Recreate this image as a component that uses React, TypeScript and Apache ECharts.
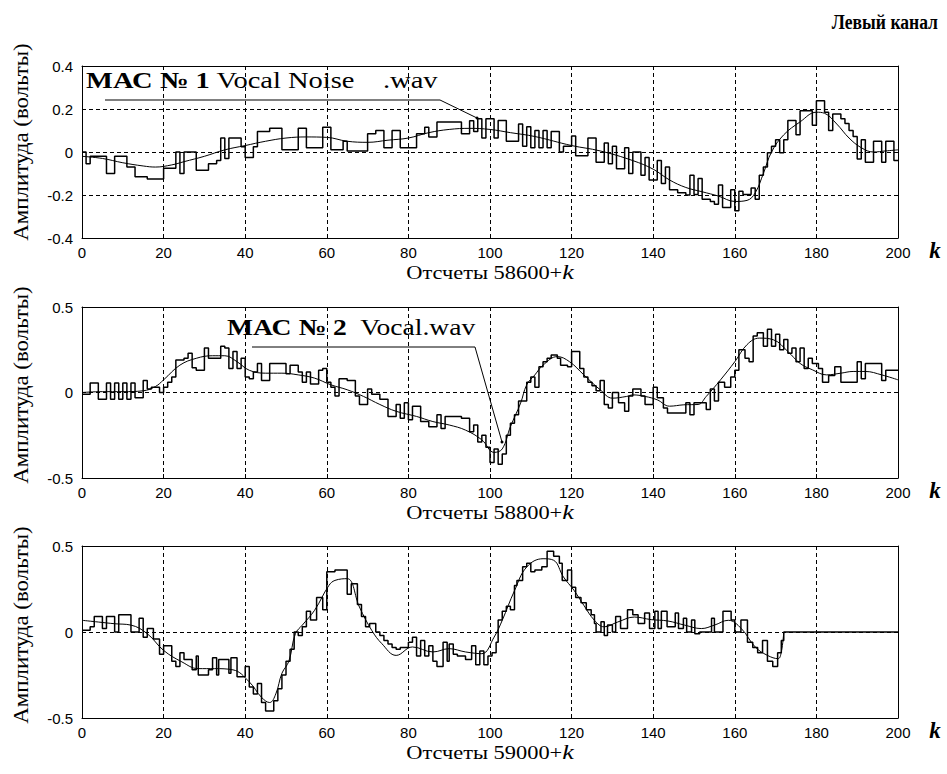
import React, { useEffect, useRef } from "react";
import * as echarts from "echarts";

const xTicks = { min: 0, max: 200, interval: 20 };
const yRanges = [
  { min: -0.4, max: 0.4, interval: 0.2 },
  { min: -0.5, max: 0.5, interval: 0.5 },
  { min: -0.5, max: 0.5, interval: 0.5 },
];
const xNames = ["58600", "58800", "59000"];
const titleText = "Левый канал";
const yName = "Амплитуда (вольты)";
const note1 = "{b|МАС № 1} Vocal Noise    .wav";
const note2 = "{b|МАС № 2}  Vocal.wav";

const step1 = [[0,0.0],[1,-0.055],[2,-0.02],[6,-0.1],[8,-0.02],[11,-0.07],[13,-0.115],[16,-0.125],[20,-0.075],[23,0.0],[24,-0.1],[25,0.0],[28,-0.085],[31,-0.055],[33,-0.04],[34,0.065],[35,-0.03],[36,0.065],[39,0.025],[40,-0.025],[42,0.025],[43,0.095],[46,0.11],[49,0.01],[53,0.11],[55,0.02],[59,0.115],[61,0.01],[64,0.05],[65,0.005],[70,0.085],[72,0.1],[74,0.02],[76,0.1],[78,0.02],[82,0.085],[84,0.115],[85,0.07],[87,0.14],[93,0.085],[95,0.145],[96,0.095],[97,0.155],[98,0.065],[99,0.155],[101,0.065],[102,0.147],[104,0.05],[107,0.13],[108,0.027],[109,0.117],[110,0.02],[111,0.1],[112,0.02],[113,0.1],[114,0.02],[115,0.095],[117,0.0],[118,0.027],[120,0.075],[121,-0.018],[124,0.065],[126,-0.048],[128,0.042],[129,-0.055],[130,0.027],[131,-0.078],[133,0.02],[134,-0.1],[135,0.0],[137,-0.108],[138,-0.025],[139,-0.13],[141,-0.04],[142,-0.146],[143,-0.07],[144,-0.175],[146,-0.19],[148,-0.2],[149,-0.108],[150,-0.198],[151,-0.123],[152,-0.22],[154,-0.23],[155,-0.243],[156,-0.153],[157,-0.258],[159,-0.175],[160,-0.273],[161,-0.183],[162,-0.198],[164,-0.168],[165,-0.22],[166,-0.108],[167,-0.07],[168,-0.003],[169,0.027],[170,0.057],[171,-0.003],[172,0.057],[173,0.147],[175,0.08],[176,0.192],[179,0.125],[180,0.238],[182,0.185],[183,0.1],[184,0.177],[186,0.155],[187,0.132],[188,0.1],[189,0.072],[190,-0.033],[191,0.057],[192,-0.048],[194,0.05],[196,-0.048],[197,0.05],[199,-0.04],[200,-0.04]];

const smooth1 = [[0,-0.02],[5,-0.03],[10,-0.05],[15,-0.065],[18,-0.07],[22,-0.06],[25,-0.045],[30,-0.02],[35,0.01],[40,0.03],[45,0.05],[50,0.065],[55,0.07],[60,0.068],[65,0.05],[70,0.045],[75,0.055],[80,0.065],[85,0.09],[90,0.105],[95,0.11],[100,0.105],[105,0.09],[111,0.072],[120,0.03],[127,0.005],[135,-0.04],[140,-0.08],[144,-0.13],[148,-0.165],[152,-0.185],[156,-0.205],[160,-0.23],[163,-0.225],[165,-0.19],[167,-0.1],[169,0.0],[172,0.08],[176,0.14],[180,0.185],[182,0.18],[185,0.13],[188,0.065],[191,0.02],[194,0.0],[197,0.005],[200,0.01]];

const step2 = [[0,-0.01],[2,0.055],[4,-0.04],[6,0.055],[7,-0.04],[8,0.055],[9,-0.04],[10,0.055],[11,-0.04],[12,0.055],[13,-0.03],[15,0.07],[16,0.02],[17,0.03],[19,0.0],[20,0.03],[21,0.06],[22,0.09],[23,0.19],[25,0.2],[26,0.23],[27,0.145],[28,0.13],[30,0.26],[31,0.2],[34,0.27],[35,0.26],[36,0.14],[37,0.24],[38,0.14],[39,0.2],[40,0.09],[41,0.08],[42,0.12],[43,0.17],[44,0.07],[46,0.17],[50,0.11],[51,0.16],[53,0.12],[54,0.06],[55,0.12],[56,0.05],[58,0.13],[59,0.14],[60,0.06],[61,0.03],[62,-0.02],[63,0.08],[65,0.07],[67,-0.02],[68,-0.07],[70,0.02],[71,-0.01],[73,-0.04],[75,-0.14],[77,-0.07],[78,-0.15],[79,-0.06],[80,-0.16],[81,-0.08],[83,-0.17],[85,-0.2],[87,-0.13],[88,-0.21],[89,-0.14],[93,-0.15],[95,-0.23],[96,-0.19],[97,-0.29],[98,-0.25],[99,-0.32],[100,-0.41],[101,-0.33],[102,-0.42],[103,-0.36],[104,-0.25],[105,-0.18],[106,-0.13],[107,-0.05],[109,0.06],[110,0.09],[111,0.03],[112,0.15],[113,0.18],[114,0.2],[115,0.22],[116.5,0.2],[117.3,0.16],[119,0.15],[120,0.24],[122,0.14],[123,0.09],[124,0.06],[125,0.04],[126,0.01],[127,0.07],[128,-0.07],[129,-0.09],[130,0.0],[131.5,-0.06],[133,-0.11],[134,-0.02],[135,0.02],[137,-0.02],[138,-0.07],[140,0.03],[141,-0.03],[142.5,-0.09],[143.5,-0.12],[148,-0.06],[149,-0.13],[150,-0.06],[153,-0.1],[154,0.02],[155,-0.05],[156,0.06],[157.5,0.03],[159,0.09],[160,0.13],[161,0.25],[162.5,0.2],[163.5,0.18],[164.5,0.33],[165.5,0.35],[167,0.27],[168,0.37],[169,0.27],[170,0.34],[171,0.25],[172,0.31],[173,0.23],[174,0.26],[175,0.18],[176,0.26],[177,0.14],[178,0.2],[179,0.17],[180.5,0.14],[181.5,0.06],[183,0.1],[184.5,0.15],[186,0.06],[190,0.18],[191,0.08],[192,0.17],[196,0.07],[197,0.13],[200,0.13]];

const smooth2 = [[0,0.0],[5,0.005],[10,0.005],[15,0.01],[18,0.035],[20,0.074],[24,0.16],[28,0.2],[32,0.215],[35,0.215],[38,0.18],[41,0.13],[45,0.113],[49,0.113],[53,0.103],[57,0.084],[61,0.045],[65,0.016],[69,-0.023],[73,-0.07],[77,-0.11],[82,-0.14],[86,-0.17],[90,-0.19],[94,-0.22],[98,-0.277],[101,-0.35],[103,-0.33],[105,-0.2],[107.5,-0.062],[109,0.045],[111,0.103],[113,0.16],[116.5,0.21],[119.5,0.18],[123,0.103],[127,0.016],[130,-0.033],[133.5,-0.023],[135,-0.014],[138,-0.023],[141,-0.043],[144,-0.08],[147.5,-0.072],[151,-0.07],[153,-0.023],[156.5,0.074],[160,0.18],[163,0.28],[166,0.318],[169.5,0.308],[173,0.24],[176,0.17],[179,0.133],[182.5,0.103],[186,0.113],[189,0.123],[192,0.123],[196,0.103],[200,0.074]];

const step3 = [[0,0.01],[2,0.03],[3,0.09],[5,0.02],[6,0.09],[8,0.0],[9,0.1],[12,0.0],[14,0.08],[15,-0.03],[16,0.02],[17.5,-0.04],[19,-0.13],[20,-0.08],[22,-0.17],[23,-0.2],[24,-0.12],[25,-0.16],[27,-0.22],[28,-0.14],[28.5,-0.25],[31,-0.22],[32,-0.15],[33,-0.25],[33.5,-0.16],[36,-0.24],[36.5,-0.15],[38,-0.26],[40,-0.2],[41,-0.32],[42,-0.36],[43,-0.3],[44,-0.41],[45,-0.46],[47,-0.4],[48,-0.33],[49,-0.25],[50,-0.17],[51,-0.1],[52,0.0],[53,-0.02],[54,0.03],[55,0.12],[56,0.07],[57.5,0.2],[59,0.13],[60,0.35],[62,0.36],[65,0.22],[66,0.28],[67.5,0.16],[68.5,0.09],[69.5,0.03],[70.5,0.05],[72,0.0],[73,-0.02],[74,-0.05],[75,-0.07],[76,-0.09],[77,-0.1],[78,-0.09],[80,-0.06],[81,-0.03],[82,-0.14],[83,-0.05],[84,-0.14],[85,-0.08],[86,-0.17],[87,-0.2],[88.5,-0.06],[89.5,-0.17],[90,-0.07],[91,-0.13],[92,-0.14],[94,-0.16],[95.5,-0.08],[96.5,-0.19],[97.5,-0.11],[98.5,-0.19],[99.5,-0.14],[100.5,-0.12],[101.5,-0.06],[102,0.07],[103,0.12],[104,0.15],[105,0.13],[106,0.27],[106.6,0.3],[108,0.38],[109,0.4],[110,0.35],[111,0.36],[112.7,0.38],[114,0.47],[115.6,0.44],[117,0.4],[117.7,0.3],[119,0.36],[120,0.26],[121,0.2],[122.3,0.17],[123.6,0.13],[124.8,0.1],[125.6,0.05],[126,0.0],[127.2,0.06],[128,-0.02],[128.8,0.04],[130,0.0],[130.8,0.09],[132,0.02],[133.7,0.13],[135,0.1],[136.3,0.05],[137.9,0.11],[139.1,0.02],[140.4,0.12],[141.2,0.02],[142,0.12],[143.4,0.03],[145.4,0.11],[146.2,0.02],[147.4,0.08],[148.2,0.0],[149.4,0.07],[150.2,-0.01],[151.4,0.0],[154.3,0.08],[155,0.0],[157.1,0.12],[159.1,0.07],[160,0.0],[161.5,0.07],[163.1,-0.06],[164.4,-0.09],[165.6,-0.12],[166.8,-0.05],[168,-0.17],[169.3,-0.2],[170.5,-0.12],[171.4,-0.05],[172,0.0],[200,0.0]];

const smooth3 = [[0,0.068],[4,0.058],[8,0.048],[12,0.04],[16,-0.01],[20,-0.107],[24.5,-0.174],[28.5,-0.213],[32.5,-0.213],[37,-0.22],[41,-0.29],[44,-0.38],[46,-0.41],[47.5,-0.36],[49,-0.24],[50.7,-0.17],[52.3,-0.01],[54,0.04],[57,0.126],[60.5,0.27],[62,0.3],[65,0.31],[68,0.145],[71,0.01],[73.5,-0.068],[77,-0.136],[81,-0.087],[86,-0.116],[90,-0.097],[94,-0.116],[98,-0.126],[101,-0.03],[103,0.068],[106,0.24],[109,0.378],[113,0.426],[115.6,0.417],[118,0.32],[120.6,0.242],[123,0.155],[125.6,0.068],[128,0.03],[131.3,0.058],[135.4,0.087],[139.5,0.072],[143.6,0.064],[147.7,0.04],[151.8,0.02],[155,0.04],[158.4,0.068],[161.6,0.02],[165,-0.087],[168,-0.136],[170.6,-0.155],[171.4,-0.116],[172,0.0]];

const steps = [step1, step2, step3];
const smooths = [smooth1, smooth2, smooth3];

const SERIF = '"Liberation Serif", "Times New Roman", serif';
const SANS = '"Liberation Sans", Arial, sans-serif';

const grids = [
  { left: 82, top: 66, width: 816, height: 172 },
  { left: 82, top: 307, width: 816, height: 171 },
  { left: 82, top: 546, width: 816, height: 172 },
];

export default function App() {
  const ref = useRef<HTMLDivElement>(null);
  useEffect(() => {
    if (!ref.current) return;
    const chart = echarts.init(ref.current, null, { renderer: "svg" });
    const black = "#000";
    const dash = { color: black, type: [4, 3] as any, width: 1 };
    const xAxis: any[] = [];
    const yAxis: any[] = [];
    const series: any[] = [];
    grids.forEach((g, i) => {
      xAxis.push({
        gridIndex: i, type: "value", position: "bottom", ...xTicks,
        axisLine: { show: true, onZero: false, lineStyle: { color: black } },
        axisTick: { show: true, inside: true, length: 4, lineStyle: { color: black } },
        axisLabel: { color: black, fontFamily: SANS, fontSize: 15, margin: 7 },
        splitLine: { show: true, lineStyle: dash },
      });
      xAxis.push({
        gridIndex: i, type: "value", position: "top", ...xTicks,
        axisLine: { show: true, onZero: false, lineStyle: { color: black } },
        axisTick: { show: true, inside: true, length: 4, lineStyle: { color: black } },
        axisLabel: { show: false }, splitLine: { show: false },
      });
      yAxis.push({
        gridIndex: i, type: "value", position: "left", ...yRanges[i],
        axisLine: { show: true, onZero: false, lineStyle: { color: black } },
        axisTick: { show: true, inside: true, length: 4, lineStyle: { color: black } },
        axisLabel: { color: black, fontFamily: SANS, fontSize: 15, margin: 9 },
        splitLine: { show: true, lineStyle: dash },
      });
      yAxis.push({
        gridIndex: i, type: "value", position: "right", ...yRanges[i],
        axisLine: { show: true, onZero: false, lineStyle: { color: black } },
        axisTick: { show: true, inside: true, length: 4, lineStyle: { color: black } },
        axisLabel: { show: false }, splitLine: { show: false },
      });
      series.push({
        type: "line", xAxisIndex: 2 * i, yAxisIndex: 2 * i, data: steps[i],
        step: "end", showSymbol: false, silent: true,
        lineStyle: { color: black, width: 1.5 },
      });
      series.push({
        type: "line", xAxisIndex: 2 * i, yAxisIndex: 2 * i, data: smooths[i],
        smooth: 0.4, showSymbol: false, silent: true,
        lineStyle: { color: black, width: 1 },
      });
    });

    const yNameCenters = [142, 385, 625];
    const xNameYs = [272, 512, 752];
    const kYs = [250, 490, 730];
    const richB = { b: { fontWeight: "bold", fontFamily: SERIF, fontSize: 23, fill: black } };
    const graphic: any[] = [
      { type: "text", x: 938, y: 22, scaleX: 0.88,
        style: { text: titleText, font: `bold 20px ${SERIF}`, fill: black,
          align: "right", verticalAlign: "middle" } },
      { type: "text", x: 86, y: 80, scaleX: 1.24,
        style: { text: note1, font: `23px ${SERIF}`, fill: black,
          verticalAlign: "middle", rich: richB } },
      { type: "polyline", shape: { points: [[105, 100], [440, 100], [477, 118]] },
        style: { stroke: black, lineWidth: 1, fill: null } },
      { type: "circle", shape: { cx: 477, cy: 118, r: 1.5 }, style: { fill: black } },
      { type: "text", x: 227, y: 327, scaleX: 1.2,
        style: { text: note2, font: `23px ${SERIF}`, fill: black,
          verticalAlign: "middle", rich: richB } },
      { type: "polyline", shape: { points: [[252, 347], [475, 347], [502, 442]] },
        style: { stroke: black, lineWidth: 1, fill: null } },
      { type: "circle", shape: { cx: 502, cy: 442, r: 1.5 }, style: { fill: black } },
    ];
    kYs.forEach((y) => {
      graphic.push({ type: "text", x: 935, y,
        style: { text: "k", font: `italic bold 23px ${SERIF}`, fill: black,
          align: "center", verticalAlign: "middle" } });
    });
    xNames.forEach((n, i) => {
      graphic.push({ type: "text", x: 490, y: xNameYs[i], scaleX: 1.18,
        style: { text: `Отсчеты ${n}+{k|k}`, font: `19px ${SERIF}`, fill: black,
          align: "center", verticalAlign: "middle",
          rich: { k: { fontFamily: SERIF, fontSize: 22, fontStyle: "italic", fill: black } } } });
    });
    yNameCenters.forEach((y) => {
      graphic.push({ type: "text", x: 21, y, rotation: Math.PI / 2, scaleX: 1.04,
        style: { text: yName, font: `22px ${SERIF}`, fill: black,
          align: "center", verticalAlign: "middle" } });
    });

    chart.setOption({
      animation: false,
      backgroundColor: "#fff",
      grid: grids,
      xAxis, yAxis, series, graphic,
    });
    return () => chart.dispose();
  }, []);
  return (
    <div ref={ref}
      style={{ position: "absolute", left: 0, top: 0, width: 947, height: 774, background: "#fff" }} />
  );
}
